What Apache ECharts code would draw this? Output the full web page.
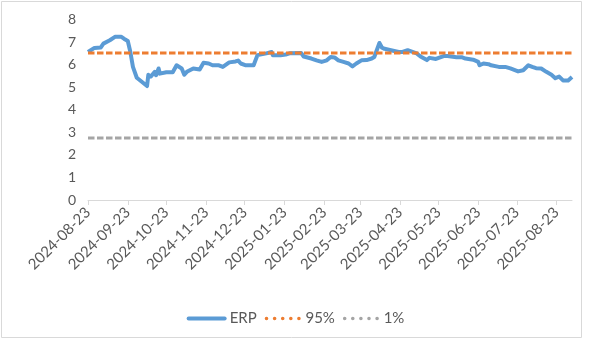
<!DOCTYPE html>
<html>
<head>
<meta charset="utf-8">
<script src="https://cdn.jsdelivr.net/npm/echarts@6/dist/echarts.min.js"></script>
<style>
  html, body { margin: 0; padding: 0; background: #fff; }
  #chart { width: 591px; height: 340px; }
</style>
</head>
<body>
<div id="chart"></div>
<script>
// Trading dates and equity risk premium readings (%)
const dates = [
  '2024-08-23','2024-08-28','2024-09-02','2024-09-04','2024-09-09','2024-09-13','2024-09-18','2024-09-20',
  '2024-09-23','2024-09-25','2024-09-27','2024-09-30','2024-10-08','2024-10-09','2024-10-11','2024-10-14',
  '2024-10-15','2024-10-17','2024-10-18','2024-10-23','2024-10-28','2024-10-31','2024-11-04','2024-11-06',
  '2024-11-08','2024-11-13','2024-11-18','2024-11-21','2024-11-25','2024-11-28','2024-12-03','2024-12-06',
  '2024-12-11','2024-12-16','2024-12-18','2024-12-20','2024-12-24','2024-12-30','2025-01-02','2025-01-09',
  '2025-01-13','2025-01-14','2025-01-20','2025-01-24','2025-01-27','2025-02-05','2025-02-07','2025-02-13',
  '2025-02-17','2025-02-21','2025-02-25','2025-02-28','2025-03-03','2025-03-06','2025-03-10','2025-03-14',
  '2025-03-17','2025-03-20','2025-03-24','2025-03-28','2025-04-01','2025-04-03','2025-04-07','2025-04-09',
  '2025-04-11','2025-04-16','2025-04-22','2025-04-25','2025-04-29','2025-04-30','2025-05-06','2025-05-09',
  '2025-05-14','2025-05-16','2025-05-21','2025-05-27','2025-05-30','2025-06-06','2025-06-10','2025-06-13',
  '2025-06-19','2025-06-23','2025-06-24','2025-06-27','2025-07-01','2025-07-03','2025-07-09','2025-07-14',
  '2025-07-18','2025-07-24','2025-07-28','2025-08-01','2025-08-04','2025-08-07','2025-08-11','2025-08-15',
  '2025-08-19','2025-08-22','2025-08-25','2025-08-28','2025-09-01','2025-09-04'
];
const erp = [
  6.56, 6.74, 6.76, 6.93, 7.08, 7.23, 7.23, 7.15,
  7.05, 6.56, 5.90, 5.42, 5.05, 5.55, 5.47, 5.68,
  5.53, 5.83, 5.60, 5.66, 5.66, 5.97, 5.83, 5.55,
  5.68, 5.83, 5.78, 6.08, 6.05, 5.97, 5.97, 5.90,
  6.10, 6.14, 6.18, 6.05, 5.97, 5.97, 6.42, 6.50,
  6.56, 6.42, 6.42, 6.45, 6.50, 6.52, 6.36, 6.27,
  6.19, 6.12, 6.19, 6.34, 6.32, 6.19, 6.12, 6.05,
  5.92, 6.05, 6.19, 6.20, 6.27, 6.34, 6.96, 6.75,
  6.70, 6.64, 6.56, 6.56, 6.64, 6.62, 6.50, 6.36,
  6.20, 6.30, 6.25, 6.38, 6.38, 6.33, 6.33, 6.27,
  6.22, 6.12, 5.97, 6.05, 6.02, 5.97, 5.90, 5.90,
  5.83, 5.70, 5.75, 5.97, 5.90, 5.84, 5.83, 5.68,
  5.55, 5.40, 5.47, 5.30, 5.30, 5.45
];
// Historical percentile bands
const pct95 = 6.52;
const pct01 = 2.75;
// Monthly tick dates on the x axis
const tickDates = [
  '2024-08-23','2024-09-23','2024-10-23','2024-11-23','2024-12-23','2025-01-23','2025-02-23',
  '2025-03-23','2025-04-23','2025-05-23','2025-06-23','2025-07-23','2025-08-23'
];

function ts(s) {
  const [y, m, d] = s.split('-').map(Number);
  return new Date(y, m - 1, d).getTime();
}
function fmt(t) {
  const d = new Date(t);
  const p = n => String(n).padStart(2, '0');
  return d.getFullYear() + '-' + p(d.getMonth() + 1) + '-' + p(d.getDate());
}

const xs = dates.map(ts);
const ticks = tickDates.map(ts);
const first = xs[0], last = xs[xs.length - 1];
const FONT = 'Lato';
const TEXT = '#595959';

const chart = echarts.init(document.getElementById('chart'), null, { renderer: 'canvas' });
chart.setOption({
  animation: false,
  backgroundColor: '#fff',
  textStyle: { fontFamily: FONT },
  graphic: [{
    type: 'rect', silent: true,
    shape: { x: 1.5, y: 1.5, width: 580, height: 336 },
    style: { fill: 'none', stroke: '#D9D9D9', lineWidth: 1 }
  }],
  grid: { left: 88, right: 19, top: 19.5, bottom: 140 },
  legend: {
    top: 306, left: 'center',
    itemWidth: 36, itemHeight: 14, itemGap: 6,
    itemStyle: { opacity: 0 },
    textStyle: { fontSize: 15, color: TEXT, fontFamily: FONT },
    data: [
      { name: 'ERP', lineStyle: { width: 4, cap: 'round' } },
      { name: '95%', lineStyle: { width: 3.5, type: [0.1, 8], cap: 'round', dashOffset: -2 } },
      { name: '1%', lineStyle: { width: 3.5, type: [0.1, 8], cap: 'round', dashOffset: -2 } }
    ]
  },
  xAxis: {
    type: 'value', min: first, max: last,
    axisLine: { lineStyle: { color: '#D9D9D9', width: 1 } },
    axisTick: { show: true, length: 5, lineStyle: { color: '#D9D9D9' }, customValues: ticks },
    axisLabel: {
      rotate: 45, margin: 10, fontSize: 15, color: TEXT, fontFamily: FONT,
      customValues: ticks, formatter: v => fmt(v), hideOverlap: false,
      showMinLabel: true, showMaxLabel: true
    },
    splitLine: { show: false }
  },
  yAxis: {
    type: 'value', min: 0, max: 8, interval: 1,
    axisLine: { show: false }, axisTick: { show: false }, splitLine: { show: false },
    axisLabel: { fontSize: 14, color: TEXT, margin: 12, fontFamily: FONT }
  },
  series: [
    {
      name: 'ERP', type: 'line', symbol: 'none', showSymbol: false,
      data: xs.map((t, i) => [t, erp[i]]),
      lineStyle: { color: '#5B9BD5', width: 4, join: 'round' },
      itemStyle: { color: '#5B9BD5' }
    },
    {
      name: '95%', type: 'line', symbol: 'none', showSymbol: false,
      data: xs.map(t => [t, pct95]),
      lineStyle: { color: '#ED7D31', width: 3, type: [6.5, 2.5] },
      itemStyle: { color: '#ED7D31' }
    },
    {
      name: '1%', type: 'line', symbol: 'none', showSymbol: false,
      data: xs.map(t => [t, pct01]),
      lineStyle: { color: '#A5A5A5', width: 3, type: [6.5, 2.5] },
      itemStyle: { color: '#A5A5A5' }
    }
  ]
});
</script>
</body>
</html>
